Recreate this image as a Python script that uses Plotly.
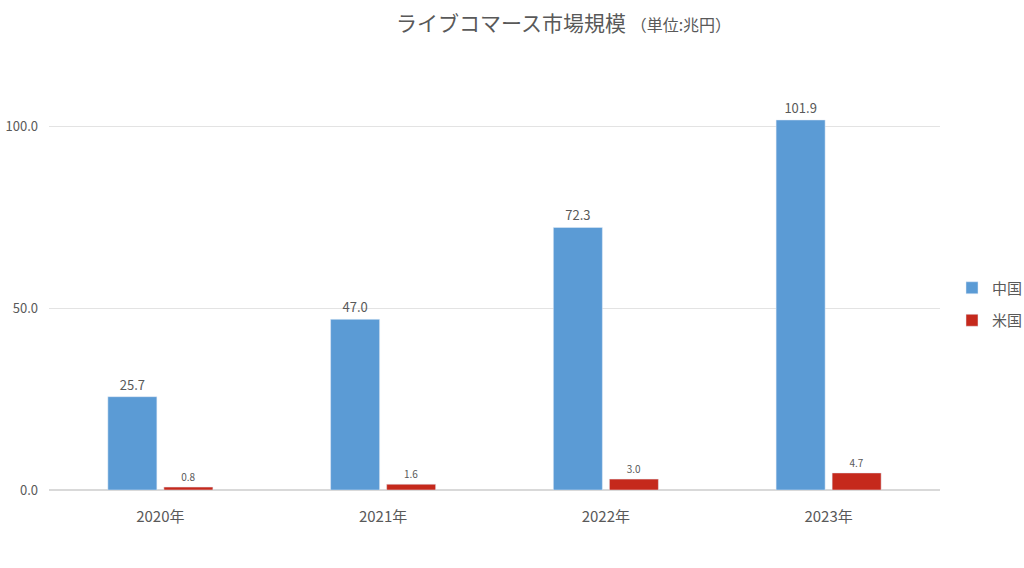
import plotly.graph_objects as go

years = ["2020年", "2021年", "2022年", "2023年"]
china = [25.7, 47.0, 72.3, 101.9]
usa = [0.8, 1.6, 3.0, 4.7]

font_family = "Noto Sans CJK JP"
gray = "#595959"

# figure size and margins in pixels (plot area matches the reference picture)
W, H = 1024, 568
ml, mr, mt, mb = 49, 84, 100, 78

fig = go.Figure()
fig.add_trace(go.Bar(
    x=years, y=china, name="中国", legendgroup="cn",
    marker=dict(color="#5B9BD5"),
    text=[f"{v:.1f}" for v in china], textposition="outside",
    textfont=dict(size=13, color=gray), cliponaxis=False,
))
fig.add_trace(go.Bar(
    x=years, y=usa, name="米国", legendgroup="us",
    marker=dict(color="#C5291C"),
    text=[f"{v:.1f}" for v in usa], textposition="outside",
    textfont=dict(size=10, color=gray), cliponaxis=False,
))

fig.update_layout(
    width=W, height=H,
    margin=dict(l=ml, r=mr, t=mt, b=mb),
    paper_bgcolor="white", plot_bgcolor="white",
    font=dict(family=font_family, color=gray, size=13),
    barmode="group", bargap=0.497, bargroupgap=0.125,
    showlegend=True,
    legend=dict(xref="container", yref="container",
                x=952 / W, y=1 - 304 / H, yanchor="middle", xanchor="left",
                font=dict(size=15, color=gray), itemwidth=30,
                tracegroupgap=10),
    annotations=[dict(
        text="ライブコマース市場規模 <span style='font-size:16px'>（単位:兆円）</span>",
        x=(563 - ml) / (W - ml - mr), xref="paper",
        y=1 + (mt - 22) / (H - mt - mb), yref="paper",
        xanchor="center", yanchor="middle", showarrow=False,
        font=dict(size=21, color=gray),
    )],
)
fig.update_xaxes(showgrid=False, showline=False, ticks="",
                 tickfont=dict(size=15, color=gray), ticklabelstandoff=16)
fig.update_yaxes(range=[0, 107.4], dtick=50, tickformat=".1f", showgrid=True,
                 gridcolor="#e3e3e3", gridwidth=1, zeroline=True, zerolinecolor="#d9d9d9",
                 tickfont=dict(size=13, color=gray), ticks="", ticklabelstandoff=10,
                 automargin=False)

fig.write_html("out.html", config={"displayModeBar": False},
               post_script="document.body.style.margin='0';")
